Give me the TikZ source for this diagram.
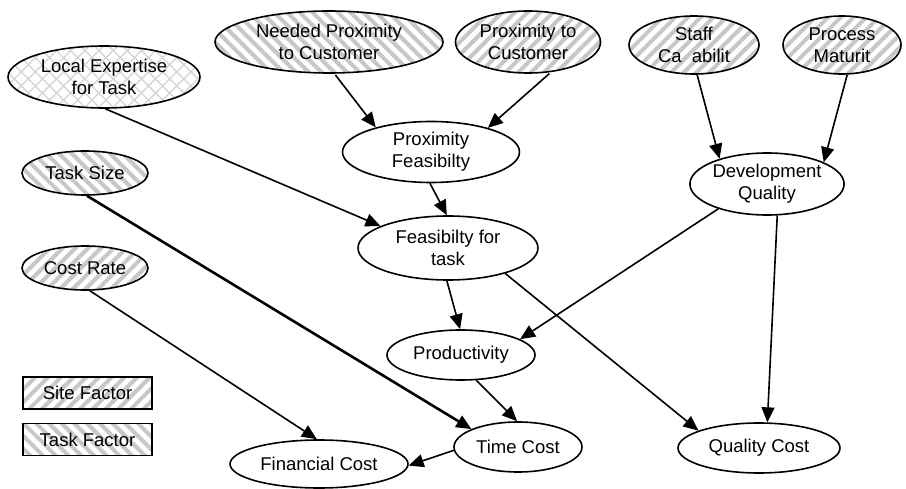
\documentclass[tikz,border=0pt]{standalone}
\usepackage{fontspec}
\setmainfont{Liberation Sans}
\usetikzlibrary{shapes.geometric,arrows.meta,patterns.meta}

\begin{document}
\begin{tikzpicture}[x=1pt,y=-1pt,
  every node/.style={font=\fontsize{18.5}{22}\selectfont, align=center, inner sep=0pt},
  var/.style={ellipse, draw, line width=1.6pt},
  plain/.style={fill=white},
  sitefill/.style={preaction={fill=white}, pattern={Lines[angle=45,distance=9pt,line width=4pt]}, pattern color=black!22},
  taskfill/.style={preaction={fill=white}, pattern={Lines[angle=-45,distance=9pt,line width=4pt]}, pattern color=black!22},
  expfill/.style={preaction={fill=white}, pattern={Hatch[angle=45,distance=10pt,line width=1.4pt]}, pattern color=black!16},
  legend/.style={rectangle, draw, line width=1.6pt, minimum width=129pt, minimum height=32pt},
  link/.style={line width=1.6pt, -{Triangle[length=15pt,width=13pt]}},
]
\useasboundingbox (0,0) rectangle (906,489);

% input factors
\node[var, expfill, minimum width=192pt, minimum height=62pt] (LE) at (104,77) {Local Expertise\\for Task};
\node[var, taskfill, minimum width=228pt, minimum height=62pt] (NP) at (329,42) {Needed Proximity\\to Customer};
\node[var, sitefill, minimum width=145pt, minimum height=62pt] (PC) at (528,42) {Proximity to\\Customer};
\node[var, sitefill, minimum width=130pt, minimum height=58pt] (SC) at (694,45) {Staff\\Ca\ \ abilit};
\node[var, sitefill, minimum width=118pt, minimum height=58pt] (PM) at (842,45) {Process\\Maturit};
\node[var, taskfill, minimum width=126pt, minimum height=44pt] (TS) at (85,173) {Task Size};
\node[var, sitefill, minimum width=126pt, minimum height=44pt] (CR) at (85,268) {Cost Rate};

% derived quantities
\node[var, plain, minimum width=177pt, minimum height=61pt] (PF) at (431,152) {Proximity\\Feasibilty};
\node[var, plain, minimum width=180pt, minimum height=64pt] (FT) at (448,248) {Feasibilty for\\task};
\node[var, plain, minimum width=150pt, minimum height=62pt] (DQ) at (767,184) {Development\\Quality};
\node[var, plain, minimum width=148pt, minimum height=50pt] (PR) at (461,355) {Productivity};
\node[var, plain, minimum width=128pt, minimum height=50pt] (TC) at (518,447) {Time Cost};
\node[var, plain, minimum width=178pt, minimum height=48pt] (FC) at (319,464) {Financial Cost};
\node[var, plain, minimum width=162pt, minimum height=50pt] (QC) at (759,448) {Quality Cost};

% legend
\node[legend, sitefill] (LS) at (87.5,393) {Site Factor};
\node[legend, taskfill] (LT) at (87.5,439.5) {Task Factor};

% dependencies
\draw[link] (NP.-79) -- (PF.156);
\draw[link] (PC.-56) -- (PF.23);
\draw[link] (SC.-84) -- (DQ.152);
\draw[link] (PM.-80) -- (DQ.21);
\draw[link] (LE.-88) -- (FT.162);
\draw[link] (PF.-92) -- (FT.92);
\draw[link] (FT.-92) -- (PR.92);
\draw[link] (FT.-24) -- (QC.164);
\draw[link] (DQ.-153) -- (PR.15);
\draw[link] (DQ.-72) -- (QC.72);
\draw[link, line width=2.6pt] (TS.-85) -- (TC.159);
\draw[link] (CR.-78) -- (FC.95);
\draw[link] (PR.-59) -- (TC.92);
\draw[link] (TC.183) -- (FC.-1);
\end{tikzpicture}
\end{document}
